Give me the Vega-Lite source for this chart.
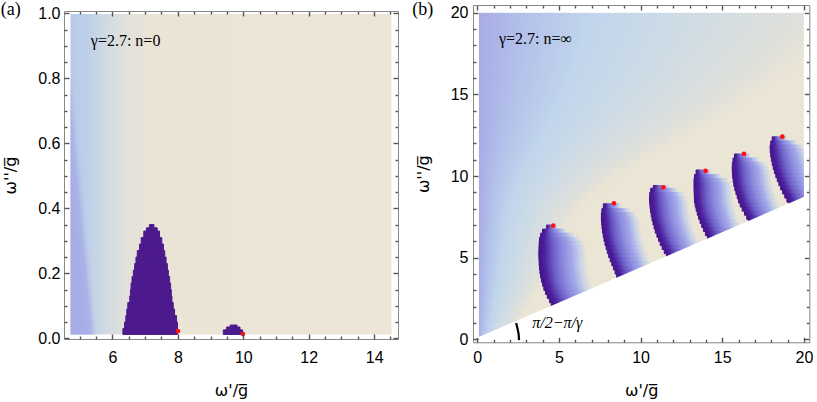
{
"$schema": "https://vega.github.io/schema/vega-lite/v6.json",
"padding": {"left": 0, "top": 0, "right": 0, "bottom": 0},
"config": {
 "view": {"stroke": null},
 "axis": {"grid": false, "labelFlush": false, "labelOverlap": false, "domainColor": "#888888", "domainWidth": 1, "tickColor": "#555555", "tickWidth": 1.4, "tickOpacity": 1, "labelFont": "Liberation Sans", "labelFontSize": 16, "labelColor": "#000000", "titleFont": "DejaVu Sans", "titleFontSize": 16, "titleFontWeight": "normal", "titleColor": "#000000", "zindex": 1}
},
"datasets": {
 "bgA": [{"x":4.72,"x2":14.53,"y":0.012,"y2":0.998}],
 "lavA": [{"x":4.72,"x2":5.6,"y":0.012,"y2":0.8}],
 "lobeA": [
  {"y":0.012,"y2":0.03,"x":6.32,"x2":7.99},
  {"y":0.03,"y2":0.05,"x":6.37,"x2":7.99},
  {"y":0.05,"y2":0.07,"x":6.41,"x2":7.96},
  {"y":0.07,"y2":0.09,"x":6.44,"x2":7.9},
  {"y":0.09,"y2":0.11,"x":6.47,"x2":7.86},
  {"y":0.11,"y2":0.13,"x":6.53,"x2":7.82},
  {"y":0.13,"y2":0.15,"x":6.55,"x2":7.8},
  {"y":0.15,"y2":0.17,"x":6.57,"x2":7.78},
  {"y":0.17,"y2":0.19,"x":6.6,"x2":7.75},
  {"y":0.19,"y2":0.21,"x":6.64,"x2":7.71},
  {"y":0.21,"y2":0.23,"x":6.68,"x2":7.68},
  {"y":0.23,"y2":0.25,"x":6.72,"x2":7.64},
  {"y":0.25,"y2":0.27,"x":6.76,"x2":7.6},
  {"y":0.27,"y2":0.29,"x":6.83,"x2":7.56},
  {"y":0.29,"y2":0.31,"x":6.88,"x2":7.51},
  {"y":0.31,"y2":0.33,"x":6.96,"x2":7.44},
  {"y":0.33,"y2":0.34,"x":7.04,"x2":7.37},
  {"y":0.34,"y2":0.35,"x":7.13,"x2":7.27},
  {"y":0.012,"y2":0.026,"x":9.39,"x2":9.98},
  {"y":0.026,"y2":0.035,"x":9.49,"x2":9.9},
  {"y":0.035,"y2":0.041,"x":9.6,"x2":9.81}
 ],
 "dotA": [{"x":8.0,"y":0.022},{"x":9.99,"y":0.013}],
 "txtA": [{"x":5.34,"y":0.915,"t":"γ=2.7: n=0"}],
 "lblA": [{"x":2.585,"y":1.0103,"t":"(a)"}],
 "bgB": [{"x":0.1,"x2":20,"y":0,"y2":20}],
 "bandB": [
  {"y":0,"y2":0.5,"x":0.1,"x2":2.0},
  {"y":0.5,"y2":1,"x":0.1,"x2":2.3},
  {"y":1,"y2":1.5,"x":0.1,"x2":2.6},
  {"y":1.5,"y2":2,"x":0.1,"x2":2.9},
  {"y":2,"y2":2.5,"x":0.1,"x2":3.2},
  {"y":2.5,"y2":3,"x":0.1,"x2":3.5},
  {"y":3,"y2":3.5,"x":0.1,"x2":3.8},
  {"y":3.5,"y2":4,"x":0.1,"x2":4.1},
  {"y":4,"y2":4.5,"x":0.1,"x2":4.3},
  {"y":4.5,"y2":5,"x":0.1,"x2":4.5},
  {"y":5,"y2":5.5,"x":0.1,"x2":4.8},
  {"y":5.5,"y2":6,"x":0.1,"x2":5.0},
  {"y":6,"y2":6.5,"x":0.1,"x2":5.3},
  {"y":6.5,"y2":7,"x":0.1,"x2":5.5},
  {"y":7,"y2":7.5,"x":0.1,"x2":5.8},
  {"y":7.5,"y2":8,"x":0.1,"x2":6.1},
  {"y":8,"y2":8.5,"x":0.1,"x2":6.5},
  {"y":8.5,"y2":9,"x":0.1,"x2":7.0},
  {"y":9,"y2":9.5,"x":0.1,"x2":7.6},
  {"y":9.5,"y2":10,"x":0.1,"x2":8.3},
  {"y":10,"y2":10.5,"x":0.1,"x2":9.0},
  {"y":10.5,"y2":11,"x":0.1,"x2":9.8},
  {"y":11,"y2":11.5,"x":0.1,"x2":10.7},
  {"y":11.5,"y2":12,"x":0.1,"x2":11.6},
  {"y":12,"y2":12.5,"x":0.1,"x2":12.5},
  {"y":12.5,"y2":13,"x":0.1,"x2":13.4},
  {"y":13,"y2":13.5,"x":0.1,"x2":14.3},
  {"y":13.5,"y2":14,"x":0.1,"x2":15.2},
  {"y":14,"y2":14.5,"x":0.1,"x2":16.0},
  {"y":14.5,"y2":15,"x":0.1,"x2":16.8},
  {"y":15,"y2":15.5,"x":0.1,"x2":17.6},
  {"y":15.5,"y2":16,"x":0.1,"x2":18.3},
  {"y":16,"y2":16.5,"x":0.1,"x2":19.0},
  {"y":16.5,"y2":17,"x":0.1,"x2":19.7},
  {"y":17,"y2":17.5,"x":0.1,"x2":20.3},
  {"y":17.5,"y2":18,"x":0.1,"x2":20.9},
  {"y":18,"y2":18.5,"x":0.1,"x2":21.5},
  {"y":18.5,"y2":19,"x":0.1,"x2":22.0},
  {"y":19,"y2":19.5,"x":0.1,"x2":22.5},
  {"y":19.5,"y2":20,"x":0.1,"x2":23.0}
 ],
 "lobeB": [
  {"y":6.75,"y2":7.0,"x":4.25,"x2":4.95},
  {"y":6.5,"y2":6.75,"x":4.0,"x2":5.5},
  {"y":6.25,"y2":6.5,"x":3.88,"x2":6.0},
  {"y":6.0,"y2":6.25,"x":3.82,"x2":6.35},
  {"y":5.75,"y2":6.0,"x":3.79,"x2":6.55},
  {"y":5.5,"y2":5.75,"x":3.78,"x2":6.65},
  {"y":5.25,"y2":5.5,"x":3.77,"x2":6.7},
  {"y":5.0,"y2":5.25,"x":3.77,"x2":6.72},
  {"y":4.75,"y2":5.0,"x":3.78,"x2":6.73},
  {"y":4.5,"y2":4.75,"x":3.79,"x2":6.74},
  {"y":4.25,"y2":4.5,"x":3.81,"x2":6.76},
  {"y":4.0,"y2":4.25,"x":3.84,"x2":6.79},
  {"y":3.75,"y2":4.0,"x":3.88,"x2":6.83},
  {"y":3.5,"y2":3.75,"x":3.93,"x2":6.88},
  {"y":3.25,"y2":3.5,"x":4.0,"x2":6.95},
  {"y":3.0,"y2":3.25,"x":4.08,"x2":7.03},
  {"y":2.75,"y2":3.0,"x":4.18,"x2":7.13},
  {"y":2.5,"y2":2.75,"x":4.29,"x2":7.24},
  {"y":2.25,"y2":2.5,"x":4.42,"x2":7.37},
  {"y":2.0,"y2":2.25,"x":4.53,"x2":7.48},
  {"y":1.75,"y2":2.0,"x":4.63,"x2":7.58},
  {"y":8.0,"y2":8.3,"x":7.72,"x2":8.85},
  {"y":7.75,"y2":8.0,"x":7.63,"x2":9.4},
  {"y":7.5,"y2":7.75,"x":7.6,"x2":9.75},
  {"y":7.25,"y2":7.5,"x":7.6,"x2":9.9},
  {"y":7.0,"y2":7.25,"x":7.62,"x2":9.98},
  {"y":6.75,"y2":7.0,"x":7.64,"x2":10.02},
  {"y":6.5,"y2":6.75,"x":7.67,"x2":10.06},
  {"y":6.25,"y2":6.5,"x":7.71,"x2":10.1},
  {"y":6.0,"y2":6.25,"x":7.76,"x2":10.15},
  {"y":5.75,"y2":6.0,"x":7.82,"x2":10.21},
  {"y":5.5,"y2":5.75,"x":7.89,"x2":10.28},
  {"y":5.25,"y2":5.5,"x":7.96,"x2":10.35},
  {"y":5.0,"y2":5.25,"x":8.05,"x2":10.44},
  {"y":4.75,"y2":5.0,"x":8.14,"x2":10.53},
  {"y":4.5,"y2":4.75,"x":8.24,"x2":10.63},
  {"y":4.25,"y2":4.5,"x":8.34,"x2":10.73},
  {"y":4.0,"y2":4.25,"x":8.44,"x2":10.83},
  {"y":3.75,"y2":4.0,"x":8.54,"x2":10.93},
  {"y":3.5,"y2":3.75,"x":8.64,"x2":11.03},
  {"y":9.25,"y2":9.42,"x":10.78,"x2":11.75},
  {"y":9.0,"y2":9.25,"x":10.62,"x2":12.3},
  {"y":8.75,"y2":9.0,"x":10.56,"x2":12.7},
  {"y":8.5,"y2":8.75,"x":10.55,"x2":12.88},
  {"y":8.25,"y2":8.5,"x":10.56,"x2":12.94},
  {"y":8.0,"y2":8.25,"x":10.58,"x2":12.97},
  {"y":7.75,"y2":8.0,"x":10.61,"x2":13.0},
  {"y":7.5,"y2":7.75,"x":10.65,"x2":13.04},
  {"y":7.25,"y2":7.5,"x":10.7,"x2":13.09},
  {"y":7.0,"y2":7.25,"x":10.76,"x2":13.15},
  {"y":6.75,"y2":7.0,"x":10.83,"x2":13.22},
  {"y":6.5,"y2":6.75,"x":10.9,"x2":13.3},
  {"y":6.25,"y2":6.5,"x":11.0,"x2":13.4},
  {"y":6.0,"y2":6.25,"x":11.1,"x2":13.5},
  {"y":5.75,"y2":6.0,"x":11.2,"x2":13.6},
  {"y":5.5,"y2":5.75,"x":11.32,"x2":13.72},
  {"y":5.25,"y2":5.5,"x":11.45,"x2":13.85},
  {"y":5.0,"y2":5.25,"x":11.58,"x2":13.98},
  {"y":10.1,"y2":10.37,"x":13.4,"x2":14.35},
  {"y":9.85,"y2":10.1,"x":13.3,"x2":15.0},
  {"y":9.6,"y2":9.85,"x":13.27,"x2":15.4},
  {"y":9.35,"y2":9.6,"x":13.27,"x2":15.58},
  {"y":9.1,"y2":9.35,"x":13.27,"x2":15.64},
  {"y":8.85,"y2":9.1,"x":13.28,"x2":15.67},
  {"y":8.6,"y2":8.85,"x":13.29,"x2":15.69},
  {"y":8.35,"y2":8.6,"x":13.3,"x2":15.7},
  {"y":8.1,"y2":8.35,"x":13.34,"x2":15.74},
  {"y":7.85,"y2":8.1,"x":13.4,"x2":15.8},
  {"y":7.6,"y2":7.85,"x":13.47,"x2":15.87},
  {"y":7.35,"y2":7.6,"x":13.55,"x2":15.95},
  {"y":7.1,"y2":7.35,"x":13.64,"x2":16.04},
  {"y":6.85,"y2":7.1,"x":13.74,"x2":16.14},
  {"y":6.6,"y2":6.85,"x":13.85,"x2":16.25},
  {"y":6.35,"y2":6.6,"x":13.97,"x2":16.37},
  {"y":6.1,"y2":6.35,"x":14.1,"x2":16.5},
  {"y":11.1,"y2":11.35,"x":15.75,"x2":16.75},
  {"y":10.85,"y2":11.1,"x":15.66,"x2":17.3},
  {"y":10.6,"y2":10.85,"x":15.62,"x2":17.7},
  {"y":10.35,"y2":10.6,"x":15.61,"x2":17.9},
  {"y":10.1,"y2":10.35,"x":15.62,"x2":17.98},
  {"y":9.85,"y2":10.1,"x":15.64,"x2":18.02},
  {"y":9.6,"y2":9.85,"x":15.67,"x2":18.05},
  {"y":9.35,"y2":9.6,"x":15.71,"x2":18.09},
  {"y":9.1,"y2":9.35,"x":15.77,"x2":18.15},
  {"y":8.85,"y2":9.1,"x":15.84,"x2":18.22},
  {"y":8.6,"y2":8.85,"x":15.92,"x2":18.3},
  {"y":8.35,"y2":8.6,"x":16.0,"x2":18.38},
  {"y":8.1,"y2":8.35,"x":16.1,"x2":18.48},
  {"y":7.85,"y2":8.1,"x":16.22,"x2":18.6},
  {"y":7.6,"y2":7.85,"x":16.36,"x2":18.74},
  {"y":7.35,"y2":7.6,"x":16.5,"x2":18.88},
  {"y":7.1,"y2":7.35,"x":16.62,"x2":19.0},
  {"y":12.15,"y2":12.4,"x":18.06,"x2":19.0},
  {"y":11.9,"y2":12.15,"x":17.97,"x2":19.6},
  {"y":11.65,"y2":11.9,"x":17.93,"x2":20.0},
  {"y":11.4,"y2":11.65,"x":17.94,"x2":20.2},
  {"y":11.15,"y2":11.4,"x":17.97,"x2":20.3},
  {"y":10.9,"y2":11.15,"x":18.01,"x2":20.38},
  {"y":10.65,"y2":10.9,"x":18.06,"x2":20.45},
  {"y":10.4,"y2":10.65,"x":18.12,"x2":20.52},
  {"y":10.15,"y2":10.4,"x":18.19,"x2":20.59},
  {"y":9.9,"y2":10.15,"x":18.28,"x2":20.68},
  {"y":9.65,"y2":9.9,"x":18.37,"x2":20.77},
  {"y":9.4,"y2":9.65,"x":18.47,"x2":20.87},
  {"y":9.15,"y2":9.4,"x":18.58,"x2":20.98},
  {"y":8.9,"y2":9.15,"x":18.7,"x2":21.1},
  {"y":8.65,"y2":8.9,"x":18.83,"x2":21.23},
  {"y":8.4,"y2":8.65,"x":18.96,"x2":21.36},
  {"y":8.15,"y2":8.4,"x":19.1,"x2":21.5}
 ],
 "maskB": [
  {"x":-1,"x2":0.1,"y":-1,"y2":21},
  {"x":20,"x2":21,"y":-1,"y2":21},
  {"x":-1,"x2":21,"y":20,"y2":21}
 ],
 "diagB": [{"x":-1,"y":-0.331},{"x":21,"y":9.151}],
 "dotB": [{"x":4.65,"y":6.96},{"x":8.37,"y":8.33},{"x":11.39,"y":9.31},{"x":13.98,"y":10.31},{"x":16.33,"y":11.35},{"x":18.68,"y":12.41}],
 "txtB": [{"x":1.33,"y":18.37,"t":"γ=2.7: n=∞"}],
 "angB": [{"x":3.37,"y":0.98,"t":"π/2−π/γ"}],
 "arcB": [{"x":2.38,"y":1.0},{"x":2.46,"y":0.7},{"x":2.53,"y":0.35},{"x":2.56,"y":-0.05}],
 "lblB": [{"x":-3.98,"y":20.17,"t":"(b)"}]
},
"spacing": 13,
"hconcat": [
 {
  "spacing": 0,
  "bounds": "flush",
  "vconcat": [
   {"width": 334, "height": 6, "data": {"values": []}, "mark": "point"},
   {
    "width": 334, "height": 328,
    "resolve": {"axis": {"x": "independent", "y": "independent"}},
    "layer": [
     {
      "data": {"name": "bgA"},
      "mark": {"type": "rect", "fill": {"gradient": "linear", "x1": 0, "y1": 0, "x2": 1, "y2": 0, "stops": [
        {"offset": 0, "color": "#b6c9ea"},
        {"offset": 0.049, "color": "#bccfe9"},
        {"offset": 0.09, "color": "#c9d7e5"},
        {"offset": 0.13, "color": "#d7dde0"},
        {"offset": 0.18, "color": "#e3e1da"},
        {"offset": 0.253, "color": "#eae4d7"},
        {"offset": 1, "color": "#ede6d7"}]}},
      "encoding": {
       "x": {"field": "x", "type": "quantitative", "scale": {"domain": [4.52, 14.73], "nice": false, "zero": false},
             "axis": {"orient": "bottom", "values": [6, 8, 10, 12, 14], "ticks": false, "domain": true, "zindex": 2, "labelPadding": 10, "title": "ω'/g̅", "titlePadding": 17}},
       "x2": {"field": "x2"},
       "y": {"field": "y", "type": "quantitative", "scale": {"domain": [-0.002, 1.007], "nice": false, "zero": false},
             "axis": {"orient": "left", "values": [0, 0.2, 0.4, 0.6, 0.8, 1], "format": ".1f", "ticks": false, "domain": true, "zindex": 2, "labelPadding": 4, "title": "ω''/g̅", "titlePadding": 19}},
       "y2": {"field": "y2"}
      }
     },
     {
      "data": {"name": "lavA"},
      "mark": {"type": "rect", "fill": {"gradient": "linear", "x1": -0.36, "y1": 0, "x2": -0.076, "y2": -0.236, "stops": [
        {"offset": 0, "color": "rgba(167,173,230,1)"},
        {"offset": 0.5, "color": "rgba(169,177,230,0.95)"},
        {"offset": 0.75, "color": "rgba(176,188,231,0.5)"},
        {"offset": 1, "color": "rgba(185,200,232,0)"}]}},
      "encoding": {
       "x": {"field": "x", "type": "quantitative", "axis": {"orient": "bottom", "values": [6, 8, 10, 12, 14], "labels": false, "ticks": true, "tickSize": 5, "tickColor": "#555555", "tickWidth": 1.4, "offset": -5, "domain": false, "zindex": 2, "title": null}},
       "x2": {"field": "x2"},
       "y": {"field": "y", "type": "quantitative", "axis": {"orient": "left", "values": [0, 0.2, 0.4, 0.6, 0.8, 1], "labels": false, "ticks": true, "tickSize": 5, "tickColor": "#555555", "tickWidth": 1.4, "offset": -5, "domain": false, "zindex": 2, "title": null}},
       "y2": {"field": "y2"}
      }
     },
     {
      "data": {"name": "lobeA"},
      "mark": {"type": "rect", "fill": "#4c1a8d", "stroke": "#4c1a8d", "strokeWidth": 1},
      "encoding": {
       "x": {"field": "x", "type": "quantitative", "axis": {"orient": "bottom", "values": [5, 5.5, 6.5, 7, 7.5, 8.5, 9, 9.5, 10.5, 11, 11.5, 12.5, 13, 13.5, 14.5], "labels": false, "ticks": true, "tickSize": 3, "tickColor": "#555555", "tickWidth": 1.4, "offset": -3, "domain": false, "zindex": 2, "title": null}},
       "x2": {"field": "x2"},
       "y": {"field": "y", "type": "quantitative", "axis": {"orient": "left", "values": [0.05, 0.1, 0.15, 0.25, 0.3, 0.35, 0.45, 0.5, 0.55, 0.65, 0.7, 0.75, 0.85, 0.9, 0.95], "labels": false, "ticks": true, "tickSize": 3, "tickColor": "#555555", "tickWidth": 1.4, "offset": -3, "domain": false, "zindex": 2, "title": null}},
       "y2": {"field": "y2"}
      }
     },
     {
      "data": {"name": "dotA"},
      "mark": {"type": "point", "filled": true, "color": "#ff1010", "size": 22, "opacity": 1},
      "encoding": {
       "x": {"field": "x", "type": "quantitative", "axis": {"orient": "top", "values": [6, 8, 10, 12, 14], "labels": false, "ticks": true, "tickSize": 5, "tickColor": "#555555", "tickWidth": 1.4, "offset": -5, "domain": false, "zindex": 2, "title": null}},
       "y": {"field": "y", "type": "quantitative", "axis": {"orient": "right", "values": [0, 0.2, 0.4, 0.6, 0.8, 1], "labels": false, "ticks": true, "tickSize": 5, "tickColor": "#555555", "tickWidth": 1.4, "offset": -5, "domain": false, "zindex": 2, "title": null}}
      }
     },
     {
      "data": {"name": "txtA"},
      "mark": {"type": "text", "align": "left", "baseline": "middle", "font": "Liberation Serif", "fontSize": 16, "color": "#000000"},
      "encoding": {
       "x": {"field": "x", "type": "quantitative", "axis": {"orient": "top", "values": [5, 5.5, 6.5, 7, 7.5, 8.5, 9, 9.5, 10.5, 11, 11.5, 12.5, 13, 13.5, 14.5], "labels": false, "ticks": true, "tickSize": 3, "tickColor": "#555555", "tickWidth": 1.4, "offset": -3, "domain": false, "zindex": 2, "title": null}},
       "y": {"field": "y", "type": "quantitative", "axis": {"orient": "right", "values": [0.05, 0.1, 0.15, 0.25, 0.3, 0.35, 0.45, 0.5, 0.55, 0.65, 0.7, 0.75, 0.85, 0.9, 0.95], "labels": false, "ticks": true, "tickSize": 3, "tickColor": "#555555", "tickWidth": 1.4, "offset": -3, "domain": false, "zindex": 2, "title": null}},
       "text": {"field": "t"}
      }
     },
     {
      "data": {"name": "lblA"},
      "mark": {"type": "text", "align": "left", "baseline": "middle", "font": "Liberation Serif", "fontSize": 18, "color": "#000000"},
      "encoding": {
       "x": {"field": "x", "type": "quantitative", "axis": {"orient": "top", "labels": false, "ticks": false, "domain": true, "zindex": 2, "title": null}},
       "y": {"field": "y", "type": "quantitative", "axis": {"orient": "right", "labels": false, "ticks": false, "domain": true, "zindex": 2, "title": null}},
       "text": {"field": "t"}
      }
     }
    ]
   }
  ]
 },
 {
  "width": 336.3, "height": 337.3,
  "resolve": {"axis": {"x": "independent", "y": "independent"}},
  "layer": [
   {
    "data": {"name": "bgB"},
    "mark": {"type": "rect", "fill": "#ebe5d6", "clip": true},
    "encoding": {
     "x": {"field": "x", "type": "quantitative", "scale": {"domain": [-0.26, 20.33], "nice": false, "zero": false},
           "axis": {"orient": "bottom", "values": [0, 5, 10, 15, 20], "ticks": false, "domain": true, "zindex": 2, "labelPadding": 7, "title": "ω'/g̅", "titlePadding": 17}},
     "x2": {"field": "x2"},
     "y": {"field": "y", "type": "quantitative", "scale": {"domain": [-0.18, 20.47], "nice": false, "zero": false},
           "axis": {"orient": "left", "values": [0, 5, 10, 15, 20], "format": "d", "ticks": false, "domain": true, "zindex": 2, "labelPadding": 5, "title": "ω''/g̅", "titlePadding": 19}},
     "y2": {"field": "y2"}
    }
   },
   {
    "data": {"name": "bandB"},
    "mark": {"type": "rect", "clip": true, "strokeWidth": 0.8,
      "fill": {"gradient": "linear", "x1": 0, "y1": 0, "x2": 1, "y2": 0, "stops": [
      {"offset": 0, "color": "#a8ace6"},
      {"offset": 0.13, "color": "#b3c2ea"},
      {"offset": 0.3, "color": "#c1d5ec"},
      {"offset": 0.52, "color": "#ccdbe6"},
      {"offset": 0.7, "color": "#d7dee0"},
      {"offset": 0.86, "color": "#dfe0da"},
      {"offset": 1, "color": "#ebe5d6"}]},
      "stroke": {"gradient": "linear", "x1": 0, "y1": 0, "x2": 1, "y2": 0, "stops": [
      {"offset": 0, "color": "#a8ace6"},
      {"offset": 0.13, "color": "#b3c2ea"},
      {"offset": 0.3, "color": "#c1d5ec"},
      {"offset": 0.52, "color": "#ccdbe6"},
      {"offset": 0.7, "color": "#d7dee0"},
      {"offset": 0.86, "color": "#dfe0da"},
      {"offset": 1, "color": "#ebe5d6"}]}},
    "encoding": {
     "x": {"field": "x", "type": "quantitative", "axis": {"orient": "bottom", "values": [0, 5, 10, 15, 20], "labels": false, "ticks": true, "tickSize": 5, "tickColor": "#555555", "tickWidth": 1.4, "offset": -5, "domain": false, "zindex": 2, "title": null}},
     "x2": {"field": "x2"},
     "y": {"field": "y", "type": "quantitative", "axis": {"orient": "left", "values": [0, 5, 10, 15, 20], "labels": false, "ticks": true, "tickSize": 5, "tickColor": "#555555", "tickWidth": 1.4, "offset": -5, "domain": false, "zindex": 2, "title": null}},
     "y2": {"field": "y2"}
    }
   },
   {
    "data": {"name": "lobeB"},
    "mark": {"type": "rect", "clip": true, "strokeWidth": 1,
      "fill": {"gradient": "linear", "x1": 0, "y1": 0, "x2": 1, "y2": 0, "stops": [
      {"offset": 0, "color": "#43128a"},
      {"offset": 0.12, "color": "#4d219e"},
      {"offset": 0.3, "color": "#6c5ec8"},
      {"offset": 0.5, "color": "#8c8ade"},
      {"offset": 0.68, "color": "#a2a8e8"},
      {"offset": 0.84, "color": "#c4cfe8"},
      {"offset": 1, "color": "#ebe5d6"}]},
      "stroke": {"gradient": "linear", "x1": 0, "y1": 0, "x2": 1, "y2": 0, "stops": [
      {"offset": 0, "color": "#43128a"},
      {"offset": 0.12, "color": "#4d219e"},
      {"offset": 0.3, "color": "#6c5ec8"},
      {"offset": 0.5, "color": "#8c8ade"},
      {"offset": 0.68, "color": "#a2a8e8"},
      {"offset": 0.84, "color": "#c4cfe8"},
      {"offset": 1, "color": "#ebe5d6"}]}},
    "encoding": {
     "x": {"field": "x", "type": "quantitative", "axis": {"orient": "bottom", "values": [1, 2, 3, 4, 6, 7, 8, 9, 11, 12, 13, 14, 16, 17, 18, 19], "labels": false, "ticks": true, "tickSize": 3, "tickColor": "#555555", "tickWidth": 1.4, "offset": -3, "domain": false, "zindex": 2, "title": null}},
     "x2": {"field": "x2"},
     "y": {"field": "y", "type": "quantitative", "axis": {"orient": "left", "values": [1, 2, 3, 4, 6, 7, 8, 9, 11, 12, 13, 14, 16, 17, 18, 19], "labels": false, "ticks": true, "tickSize": 3, "tickColor": "#555555", "tickWidth": 1.4, "offset": -3, "domain": false, "zindex": 2, "title": null}},
     "y2": {"field": "y2"}
    }
   },
   {
    "data": {"name": "maskB"},
    "mark": {"type": "rect", "fill": "#ffffff", "clip": true},
    "encoding": {
     "x": {"field": "x", "type": "quantitative", "axis": {"orient": "top", "values": [0, 5, 10, 15, 20], "labels": false, "ticks": true, "tickSize": 5, "tickColor": "#555555", "tickWidth": 1.4, "offset": -5, "domain": false, "zindex": 2, "title": null}},
     "x2": {"field": "x2"},
     "y": {"field": "y", "type": "quantitative", "axis": {"orient": "right", "values": [0, 5, 10, 15, 20], "labels": false, "ticks": true, "tickSize": 5, "tickColor": "#555555", "tickWidth": 1.4, "offset": -5, "domain": false, "zindex": 2, "title": null}},
     "y2": {"field": "y2"}
    }
   },
   {
    "data": {"name": "diagB"},
    "mark": {"type": "area", "fill": "#ffffff", "clip": true},
    "encoding": {
     "x": {"field": "x", "type": "quantitative", "axis": null},
     "y": {"field": "y", "type": "quantitative", "axis": null},
     "y2": {"datum": -1}
    }
   },
   {
    "data": {"name": "dotB"},
    "mark": {"type": "point", "filled": true, "color": "#ff1010", "size": 22, "opacity": 1},
    "encoding": {
     "x": {"field": "x", "type": "quantitative", "axis": {"orient": "top", "values": [1, 2, 3, 4, 6, 7, 8, 9, 11, 12, 13, 14, 16, 17, 18, 19], "labels": false, "ticks": true, "tickSize": 3, "tickColor": "#555555", "tickWidth": 1.4, "offset": -3, "domain": false, "zindex": 2, "title": null}},
     "y": {"field": "y", "type": "quantitative", "axis": {"orient": "right", "values": [1, 2, 3, 4, 6, 7, 8, 9, 11, 12, 13, 14, 16, 17, 18, 19], "labels": false, "ticks": true, "tickSize": 3, "tickColor": "#555555", "tickWidth": 1.4, "offset": -3, "domain": false, "zindex": 2, "title": null}}
    }
   },
   {
    "data": {"name": "txtB"},
    "mark": {"type": "text", "align": "left", "baseline": "middle", "font": "Liberation Serif", "fontSize": 16, "color": "#000000"},
    "encoding": {
     "x": {"field": "x", "type": "quantitative", "axis": {"orient": "top", "labels": false, "ticks": false, "domain": true, "zindex": 2, "title": null}},
     "y": {"field": "y", "type": "quantitative", "axis": {"orient": "right", "labels": false, "ticks": false, "domain": true, "zindex": 2, "title": null}},
     "text": {"field": "t"}
    }
   },
   {
    "data": {"name": "angB"},
    "mark": {"type": "text", "align": "left", "baseline": "middle", "font": "Liberation Serif", "fontStyle": "italic", "fontSize": 16, "color": "#000000"},
    "encoding": {
     "x": {"field": "x", "type": "quantitative", "axis": null},
     "y": {"field": "y", "type": "quantitative", "axis": null},
     "text": {"field": "t"}
    }
   },
   {
    "data": {"name": "arcB"},
    "mark": {"type": "line", "color": "#000000", "strokeWidth": 2.2},
    "encoding": {
     "x": {"field": "x", "type": "quantitative", "axis": null},
     "y": {"field": "y", "type": "quantitative", "axis": null}
    }
   },
   {
    "data": {"name": "lblB"},
    "mark": {"type": "text", "align": "left", "baseline": "middle", "font": "Liberation Serif", "fontSize": 18, "color": "#000000"},
    "encoding": {
     "x": {"field": "x", "type": "quantitative", "axis": null},
     "y": {"field": "y", "type": "quantitative", "axis": null},
     "text": {"field": "t"}
    }
   }
  ]
 }
]
}
